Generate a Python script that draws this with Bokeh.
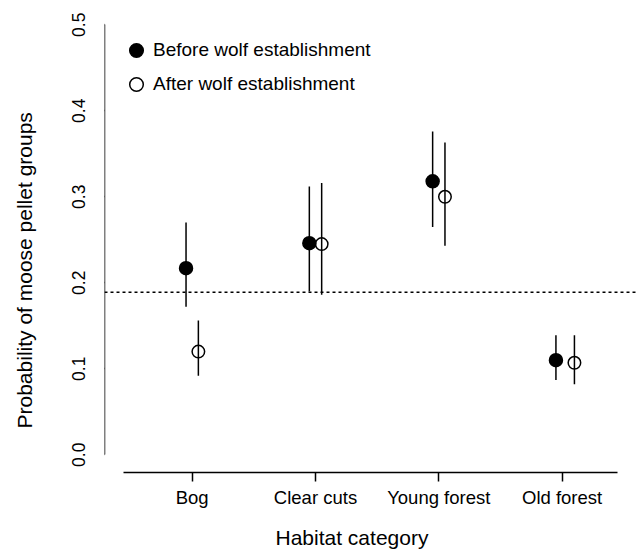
from bokeh.plotting import figure
from bokeh.models import (ColumnDataSource, FixedTicker, Span, Legend,
                          LegendItem, Range1d, Title, LinearAxis)
from bokeh.embed import file_html
from bokeh.resources import INLINE

# ---------------- data ----------------
categories = ["Bog", "Clear cuts", "Young forest", "Old forest"]
before_mean = [0.217, 0.246, 0.318, 0.110]
before_lower = [0.172, 0.190, 0.265, 0.087]
before_upper = [0.270, 0.312, 0.376, 0.139]
after_mean = [0.120, 0.245, 0.300, 0.107]
after_lower = [0.092, 0.186, 0.243, 0.082]
after_upper = [0.156, 0.316, 0.363, 0.139]
reference_level = 0.189
y_ticks = [0.0, 0.1, 0.2, 0.3, 0.4, 0.5]
y_tick_labels = ["0.0", "0.1", "0.2", "0.3", "0.4", "0.5"]
series_names = ["Before wolf establishment", "After wolf establishment"]
x_title = "Habitat category"
y_title = "Probability of moose pellet groups"

# ---------------- layout / styling ----------------
before_dodge = [-0.05, -0.05, -0.05, -0.05]
after_dodge = [0.05, 0.05, 0.05, 0.10]
FONT = "Liberation Sans"
X_START, X_END = 0.2887, 4.6034

cat_pos = [i + 1 for i in range(len(categories))]
src_before = ColumnDataSource(dict(
    x=[p + d for p, d in zip(cat_pos, before_dodge)],
    y=before_mean, lo=before_lower, hi=before_upper))
src_after = ColumnDataSource(dict(
    x=[p + d for p, d in zip(cat_pos, after_dodge)],
    y=after_mean, lo=after_lower, hi=after_upper))

p = figure(width=638, height=549, output_backend="svg", toolbar_location=None,
           x_range=Range1d(X_START, X_END), y_range=Range1d(-0.0206, 0.5201),
           min_border_left=104, min_border_right=2, min_border_top=7,
           min_border_bottom=77)
p.background_fill_color = "white"
p.border_fill_color = "white"
p.outline_line_color = None
p.xgrid.visible = False
p.ygrid.visible = False

# reference line
p.add_layout(Span(location=reference_level, dimension="width",
                  line_color="black", line_width=1.5, line_dash="3 3"))

# error bars
p.segment(x0="x", y0="lo", x1="x", y1="hi", source=src_before,
          line_color="black", line_width=1.5)
p.segment(x0="x", y0="lo", x1="x", y1="hi", source=src_after,
          line_color="black", line_width=1.5)

# points
r_before = p.scatter("x", "y", source=src_before, size=13, marker="circle",
                     fill_color="black", line_color="black", line_width=1.5)
r_after = p.scatter("x", "y", source=src_after, size=12.5, marker="circle",
                    fill_color=None, line_color="black", line_width=1.5)

# x axis
xa = p.xaxis[0]
xa.ticker = FixedTicker(ticks=cat_pos)
xa.major_label_overrides = {c: n for c, n in zip(cat_pos, categories)}
xa.bounds = (0.445, 4.45)
xa.axis_line_width = 1.5
xa.major_tick_line_width = 1.5
xa.major_tick_out = 9
xa.major_tick_in = 0
xa.minor_tick_out = 0
xa.minor_tick_in = 0
xa.major_label_text_font = FONT
xa.major_label_text_font_size = "18.5px"
xa.major_label_text_color = "black"
xa.major_label_standoff = 5

# invisible spacer below the x axis (pushes the x title down)
xa_spacer = LinearAxis(ticker=FixedTicker(ticks=cat_pos),
                       major_label_overrides={c: "" for c in cat_pos},
                       axis_line_color=None, major_tick_line_color=None,
                       minor_tick_line_color=None, major_tick_out=12,
                       major_tick_in=0, minor_tick_out=0, minor_tick_in=0,
                       major_label_standoff=0,
                       major_label_text_font_size="0px")
p.add_layout(xa_spacer, "below")

# y axis: line and ticks (no label text), pinned to frame edge
ya = p.yaxis[0]
ya.ticker = FixedTicker(ticks=y_ticks)
ya.major_label_overrides = {t: "" for t in y_ticks}
ya.bounds = (0.0, 0.5)
ya.fixed_location = X_START
ya.axis_line_color = "black"
ya.axis_line_width = 1.5
ya.major_tick_line_color = "black"
ya.major_tick_line_width = 1.5
ya.major_tick_out = 8
ya.major_tick_in = 0
ya.minor_tick_out = 0
ya.minor_tick_in = 0
ya.major_label_standoff = 0

# y axis: rotated tick labels
ya2 = LinearAxis(ticker=FixedTicker(ticks=y_ticks),
                 major_label_overrides={t: s for t, s in zip(y_ticks, y_tick_labels)},
                 bounds=(0.0, 0.5), axis_line_color=None,
                 major_tick_line_color=None, minor_tick_line_color=None,
                 major_tick_out=0, major_tick_in=0,
                 minor_tick_out=0, minor_tick_in=0,
                 major_label_orientation="vertical", major_label_standoff=19,
                 major_label_text_font=FONT, major_label_text_font_size="17.5px",
                 major_label_text_color="black")
p.add_layout(ya2, "left")

# invisible spacer left of the tick labels (pushes the y title left)
ya_spacer = LinearAxis(ticker=FixedTicker(ticks=y_ticks),
                       major_label_overrides={t: "" for t in y_ticks},
                       axis_line_color=None, major_tick_line_color=None,
                       minor_tick_line_color=None, major_tick_out=32,
                       major_tick_in=0, minor_tick_out=0, minor_tick_in=0,
                       major_label_standoff=0,
                       major_label_text_font_size="0px")
p.add_layout(ya_spacer, "left")

# axis titles
p.add_layout(Title(text=x_title, align="left", offset=171, standoff=2,
                   text_font=FONT, text_font_size="21px",
                   text_font_style="normal", text_color="black"), "below")
p.add_layout(Title(text=y_title, align="left", offset=44, standoff=4,
                   text_line_height=1.0,
                   text_font=FONT, text_font_size="21px",
                   text_font_style="normal", text_color="black"), "left")

# legend
legend = Legend(items=[LegendItem(label=series_names[0], renderers=[r_before]),
                       LegendItem(label=series_names[1], renderers=[r_after])],
                location=(15, 371), orientation="vertical",
                border_line_color=None, background_fill_alpha=0,
                padding=0, margin=0, spacing=0,
                glyph_width=34, glyph_height=34, label_standoff=0,
                label_text_font=FONT, label_text_font_size="19px",
                label_text_color="black")
p.add_layout(legend)

open("out.html", "w").write(file_html(p, INLINE))
